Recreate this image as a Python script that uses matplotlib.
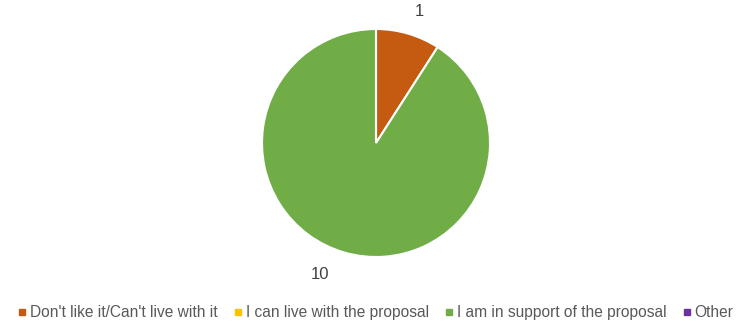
import matplotlib.pyplot as plt
from matplotlib.lines import Line2D

categories = ["Don't like it/Can't live with it", "I can live with the proposal",
              "I am in support of the proposal", "Other"]
counts = [1, 0, 10, 0]
colors = ["#C55A11", "#FFC000", "#70AD47", "#7030A0"]

plt.rcParams['font.family'] = ['Liberation Sans', 'DejaVu Sans']

fig = plt.figure(figsize=(7.49, 3.23), dpi=100)
ax = fig.add_axes([262 / 749, 66 / 323, 228 / 749, 228 / 323])

# only non-zero slices get drawn / labelled
vals = [v for v in counts if v > 0]
cols = [c for v, c in zip(counts, colors) if v > 0]
wedges, texts = ax.pie(vals, colors=cols, startangle=90, counterclock=False,
                       labels=[str(v) for v in vals], labeldistance=1.2,
                       wedgeprops=dict(edgecolor='white', linewidth=1.5),
                       textprops=dict(color='#404040', fontsize=12))
texts[1].set_x(texts[1].get_position()[0] - 0.07)
ax.set_xlim(-1, 1)
ax.set_ylim(-1, 1)

handles = [Line2D([], [], marker='s', linestyle='none', markersize=4.5,
                  markerfacecolor=c, markeredgecolor=c) for c in colors]
fig.legend(handles, categories, loc='center left', bbox_to_anchor=(0.004, 0.031),
           ncol=4, frameon=False, fontsize=11.2, labelcolor='#595959',
           handletextpad=0.15, columnspacing=0.95, handlelength=0.7)

fig.savefig('out.png', dpi=100)
